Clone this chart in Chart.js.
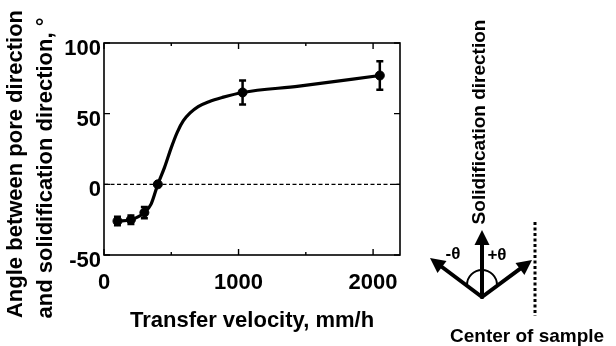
<!DOCTYPE html>
<html>
<head>
<meta charset="utf-8">
<script src="https://cdn.jsdelivr.net/npm/chart.js@4"></script>
<style>
  body { margin: 0; background: #fff; }
  #wrap { width: 616px; height: 346px; position: relative; }
</style>
</head>
<body>
<div id="wrap"><canvas id="angle-chart"></canvas></div>
<script>
// Measured points (transfer velocity, mm/h -> angle, deg)
const velocity = [100, 200, 300, 400, 1030, 2050];
const angle = [-26, -25, -20, 0, 65, 77];
const angleErr = [3, 3, 4, 0, 8.5, 10];

// Fitted guide curve
const curveVelocity = [100, 200, 300, 350, 400, 450, 500, 545, 590, 640, 700, 780, 880, 1030, 1450, 2050];
const curveAngle = [-26, -25, -20, -14, 0, 12, 26, 37, 45, 50.5, 55, 58.5, 61.5, 65, 69.5, 77];

// Axis ticks
const xTicks = [0, 1000, 2000];
const xMinorTicks = [500, 1500];
const yTicks = [-50, 0, 50, 100];

const FONT = "'Liberation Sans', Arial, sans-serif";

// Frame, inward ticks, error bars and the sketch on the right
const extrasPlugin = {
  id: "extras",
  afterDatasetsDraw(chart) {
    const ctx = chart.ctx;
    const xs = chart.scales.x;
    const ys = chart.scales.y;
    const area = chart.chartArea;

    ctx.save();
    ctx.strokeStyle = "#000";
    ctx.fillStyle = "#000";

    // error bars
    ctx.lineWidth = 2.5;
    velocity.forEach(function (v, i) {
      if (!angleErr[i]) return;
      const px = xs.getPixelForValue(v);
      const top = ys.getPixelForValue(angle[i] + angleErr[i]);
      const bot = ys.getPixelForValue(angle[i] - angleErr[i]);
      ctx.beginPath();
      ctx.moveTo(px, top);
      ctx.lineTo(px, bot);
      ctx.moveTo(px - 3.5, top);
      ctx.lineTo(px + 3.5, top);
      ctx.moveTo(px - 3.5, bot);
      ctx.lineTo(px + 3.5, bot);
      ctx.stroke();
    });

    // box
    ctx.lineWidth = 1.6;
    ctx.strokeRect(area.left, area.top, area.right - area.left, area.bottom - area.top);

    // inward ticks
    ctx.lineWidth = 1.4;
    ctx.beginPath();
    xTicks.concat(xMinorTicks).forEach(function (v) {
      const px = xs.getPixelForValue(v);
      const len = xTicks.includes(v) ? 6 : 3;
      ctx.moveTo(px, area.bottom);
      ctx.lineTo(px, area.bottom - len);
      ctx.moveTo(px, area.top);
      ctx.lineTo(px, area.top + len);
    });
    yTicks.forEach(function (v) {
      const py = ys.getPixelForValue(v);
      ctx.moveTo(area.left, py);
      ctx.lineTo(area.left + 6, py);
      ctx.moveTo(area.right, py);
      ctx.lineTo(area.right - 6, py);
    });
    ctx.stroke();
    ctx.restore();
  },
  afterDraw(chart) {
    const ctx = chart.ctx;
    ctx.save();
    ctx.fillStyle = "#000";
    ctx.strokeStyle = "#000";

    // y axis title (two lines, rotated)
    ctx.font = "bold 22px " + FONT;
    ctx.textAlign = "center";
    ctx.textBaseline = "middle";
    ctx.save();
    ctx.translate(16, 164);
    ctx.rotate(-Math.PI / 2);
    ctx.fillText("Angle between pore direction", 0, 0);
    ctx.fillText("and solidification direction, \u00b0", -4, 30);
    ctx.restore();

    // sketch: solidification direction
    ctx.font = "bold 19px " + FONT;
    ctx.save();
    ctx.translate(480, 122);
    ctx.rotate(-Math.PI / 2);
    ctx.fillText("Solidification direction", 0, 0);
    ctx.restore();

    const vx = 482, vy = 297;
    function arrow(tx, ty) {
      const ang = Math.atan2(ty - vy, tx - vx);
      const head = 15, half = 7.5;
      const bx = tx - head * Math.cos(ang);
      const by = ty - head * Math.sin(ang);
      ctx.lineWidth = 4;
      ctx.beginPath();
      ctx.moveTo(vx, vy);
      ctx.lineTo(bx, by);
      ctx.stroke();
      ctx.beginPath();
      ctx.moveTo(tx, ty);
      ctx.lineTo(bx + half * Math.sin(ang), by - half * Math.cos(ang));
      ctx.lineTo(bx - half * Math.sin(ang), by + half * Math.cos(ang));
      ctx.closePath();
      ctx.fill();
    }
    ctx.lineCap = "round";
    arrow(482, 230);
    arrow(430, 258);
    arrow(532, 260);

    ctx.lineWidth = 2;
    ctx.beginPath();
    ctx.arc(482, 285, 15, Math.PI, 2 * Math.PI);
    ctx.stroke();

    ctx.font = "bold 17px " + FONT;
    ctx.fillText("-\u03b8", 453, 254);
    ctx.fillText("+\u03b8", 497, 255);

    // center of sample
    ctx.lineCap = "butt";
    ctx.lineWidth = 3;
    ctx.setLineDash([3, 2.5]);
    ctx.beginPath();
    ctx.moveTo(535, 222);
    ctx.lineTo(535, 316);
    ctx.stroke();
    ctx.setLineDash([]);

    ctx.font = "bold 19px " + FONT;
    ctx.textAlign = "left";
    ctx.fillText("Center of sample", 450, 337);
    ctx.restore();
  },
};

const chart = new Chart(document.getElementById("angle-chart").getContext("2d"), {
  type: "scatter",
  data: {
    datasets: [
      {
        label: "zero",
        data: [{ x: 0, y: 0 }, { x: 2200, y: 0 }],
        showLine: true,
        borderColor: "#000",
        borderWidth: 1.4,
        borderDash: [4, 2.5],
        pointRadius: 0,
      },
      {
        label: "fit",
        data: curveVelocity.map((v, i) => ({ x: v, y: curveAngle[i] })),
        showLine: true,
        borderColor: "#000",
        borderWidth: 3.2,
        cubicInterpolationMode: "monotone",
        pointRadius: 0,
      },
      {
        label: "measured",
        data: velocity.map((v, i) => ({ x: v, y: angle[i] })),
        backgroundColor: "#000",
        borderColor: "#000",
        pointRadius: 4.5,
      },
    ],
  },
  plugins: [extrasPlugin],
  options: {
    responsive: true,
    maintainAspectRatio: false,
    animation: false,
    layout: { padding: { left: 0, right: 216, top: 43, bottom: 0 } },
    plugins: {
      legend: { display: false },
      tooltip: { enabled: false },
    },
    scales: {
      x: {
        type: "linear",
        min: 0,
        max: 2200,
        grid: { display: false, drawTicks: false },
        border: { display: false },
        afterBuildTicks: (scale) => {
          scale.ticks = xTicks.map((v) => ({ value: v }));
        },
        afterFit: (scale) => {
          scale.height = 91;
        },
        ticks: {
          color: "#000",
          font: { family: FONT, size: 22, weight: "bold" },
          padding: 15,
          maxRotation: 0,
          callback: (v) => String(v),
        },
        title: {
          display: true,
          text: "Transfer velocity, mm/h",
          color: "#000",
          font: { family: FONT, size: 22, weight: "bold" },
          padding: { top: 0, bottom: 12 },
        },
      },
      y: {
        min: -50,
        max: 100,
        grid: { display: false, drawTicks: false },
        border: { display: false },
        afterBuildTicks: (scale) => {
          scale.ticks = yTicks.map((v) => ({ value: v }));
        },
        afterFit: (scale) => {
          scale.width = 104;
        },
        ticks: {
          color: "#000",
          font: { family: FONT, size: 22, weight: "bold" },
          padding: 3,
          labelOffset: 6,
          callback: (v) => String(v),
        },
      },
    },
  },
});
</script>
</body>
</html>
